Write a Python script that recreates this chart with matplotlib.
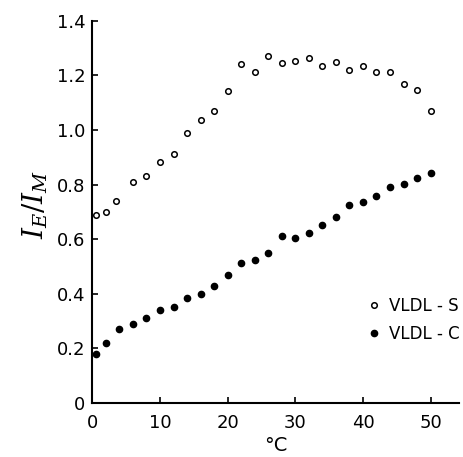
import matplotlib
matplotlib.use("Agg")
import matplotlib.pyplot as plt

# Datos
temp_s = [0.5, 2, 3.5, 6, 8, 10, 12, 14, 16, 18, 20, 22, 24, 26,
          28, 30, 32, 34, 36, 38, 40, 42, 44, 46, 48, 50]
ratio_s = [0.690, 0.699, 0.741, 0.811, 0.832, 0.883, 0.913, 0.988, 1.036,
           1.070, 1.141, 1.241, 1.212, 1.270, 1.246, 1.251, 1.265, 1.235,
           1.249, 1.221, 1.234, 1.212, 1.212, 1.170, 1.145, 1.069]

temp_c = [0.5, 2, 4, 6, 8, 10, 12, 14, 16, 18, 20, 22, 24, 26,
          28, 30, 32, 34, 36, 38, 40, 42, 44, 46, 48, 50]
ratio_c = [0.178, 0.221, 0.270, 0.288, 0.312, 0.340, 0.352, 0.384, 0.401,
           0.430, 0.469, 0.514, 0.525, 0.551, 0.613, 0.606, 0.621, 0.653,
           0.683, 0.725, 0.738, 0.759, 0.792, 0.801, 0.823, 0.843]

x_ticks = [0, 10, 20, 30, 40, 50]
y_ticks = [0, 0.2, 0.4, 0.6, 0.8, 1.0, 1.2, 1.4]
y_tick_labels = ['0', '0.2', '0.4', '0.6', '0.8', '1.0', '1.2', '1.4']

plt.rcParams['mathtext.fontset'] = 'dejavuserif'

fig = plt.figure(figsize=(4.63, 4.57), dpi=100)
ax = fig.add_axes([0.1994, 0.1182, 0.7920, 0.8363])

ax.plot(temp_s, ratio_s, 'o', markersize=4, markerfacecolor='white',
        markeredgecolor='black', markeredgewidth=1.1, label='VLDL - S')
ax.plot(temp_c, ratio_c, 'o', markersize=4.5, color='black', label='VLDL - C')

ax.set_xlim(0, 54.2)
ax.set_ylim(0, 1.4)
ax.set_xticks(x_ticks)
ax.set_yticks(y_ticks)
ax.set_yticklabels(y_tick_labels)
ax.tick_params(direction='in', length=4, width=1.2, labelsize=13)
ax.tick_params(axis='x', pad=8)
ax.tick_params(axis='y', pad=5)

for side in ['top', 'right']:
    ax.spines[side].set_visible(False)
for side in ['left', 'bottom']:
    ax.spines[side].set_linewidth(1.5)

ax.set_xlabel('°C', fontsize=14, labelpad=3)
ax.set_ylabel(r'$I_E/I_M$', fontsize=20)
ax.yaxis.set_label_coords(-0.115, 0.52)

leg = ax.legend(loc='upper left', bbox_to_anchor=(0.796, 0.35),
                bbox_transform=fig.transFigure, frameon=False, fontsize=12,
                handlelength=0.6, handletextpad=0.6, labelspacing=0.6,
                borderpad=0, borderaxespad=0)

fig.savefig('out.png', dpi=100)
